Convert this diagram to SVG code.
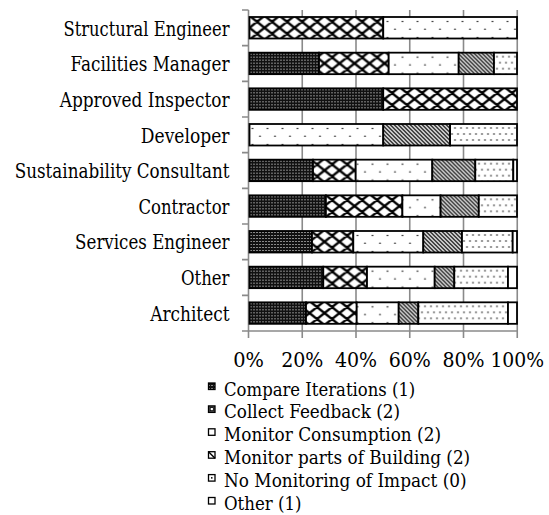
<svg xmlns="http://www.w3.org/2000/svg" width="549" height="515" viewBox="0 0 549 515" font-family="'DejaVu Serif', serif">
  <style>
    text { font-family: 'DejaVu Serif', serif; fill: #000; }
    .cat { font-size: 19.6px; text-anchor: end; }
    .tick { font-size: 20.5px; }
    .leg { font-size: 19.4px; }
    .grid { stroke: #8a8a8a; stroke-width: 1.6; fill: none; }
    .seg { stroke: #000; stroke-width: 1.8; }
    .mk { stroke: #000; stroke-width: 1.3; fill: #fff; }
    .compare { fill: url(#p-compare); }
    .collect { fill: url(#p-collect); }
    .consumption { fill: url(#p-consumption); }
    .parts { fill: url(#p-parts); }
    .none { fill: url(#p-none); }
    .other { fill: #fff; }
  </style>
  <defs>
    <!-- dark fill with a fine grid of light dots -->
    <pattern id="p-compare" patternUnits="userSpaceOnUse" x="249.5" y="0" width="3" height="3">
      <rect width="3" height="3" fill="#111"/>
      <rect x="1" y="1" width="1" height="1" fill="#fff"/>
    </pattern>
    <!-- large diagonal crosshatch (diamonds) -->
    <pattern id="p-collect" patternUnits="userSpaceOnUse" x="249.5" y="-1.25" width="15" height="12">
      <rect width="15" height="12" fill="#fff"/>
      <path d="M-15,-12 L30,24 M-15,0 L15,24 M0,-12 L30,12 M-15,24 L30,-12 M-15,12 L15,-12 M0,24 L30,0" stroke="#000" stroke-width="2.4"/>
    </pattern>
    <!-- sparse staggered dots -->
    <pattern id="p-consumption" patternUnits="userSpaceOnUse" x="249.5" y="0" width="15" height="16">
      <rect width="15" height="16" fill="#fff"/>
      <circle cx="3" cy="4.5" r="0.8" fill="#000"/>
      <circle cx="10.5" cy="12.3" r="0.8" fill="#000"/>
    </pattern>
    <!-- downward diagonal stripes -->
    <pattern id="p-parts" patternUnits="userSpaceOnUse" x="249.5" y="0" width="4" height="4">
      <rect width="4" height="4" fill="#fff"/>
      <path d="M-1,-1 L5,5 M-1,3 L1,5 M3,-1 L5,1" stroke="#000" stroke-width="1.3"/>
    </pattern>
    <!-- dense staggered dots -->
    <pattern id="p-none" patternUnits="userSpaceOnUse" x="249.5" y="0" width="6" height="12">
      <rect width="6" height="12" fill="#fff"/>
      <circle cx="1.5" cy="4" r="0.8" fill="#000"/>
      <circle cx="4.5" cy="10" r="0.8" fill="#000"/>
    </pattern>
  </defs>

  <rect width="549" height="515" fill="#fff"/>

  <!-- axes and gridlines -->
  <g id="axes" class="grid">
    <path d="M248.5,10 V338 M302.25,10 V338 M356,10 V338 M409.75,10 V338 M463.5,10 V338 M517.25,10 V338"/>
    <path d="M242,331 H517.25"/>
    <path d="M242,10 H248.5 M242,45.67 H248.5 M242,81.33 H248.5 M242,117 H248.5 M242,152.67 H248.5 M242,188.33 H248.5 M242,224 H248.5 M242,259.67 H248.5 M242,295.33 H248.5"/>
  </g>

  <!-- category labels -->
  <g id="categories">
    <text class="cat" x="229.5" y="35.7" textLength="166" lengthAdjust="spacingAndGlyphs">Structural Engineer</text>
    <text class="cat" x="229.5" y="71.3" textLength="159" lengthAdjust="spacingAndGlyphs">Facilities Manager</text>
    <text class="cat" x="229.5" y="106.9" textLength="169.8" lengthAdjust="spacingAndGlyphs">Approved Inspector</text>
    <text class="cat" x="229.5" y="142.5" textLength="88.7" lengthAdjust="spacingAndGlyphs">Developer</text>
    <text class="cat" x="229.5" y="178.1" textLength="214.8" lengthAdjust="spacingAndGlyphs">Sustainability Consultant</text>
    <text class="cat" x="229.5" y="213.7" textLength="91.1" lengthAdjust="spacingAndGlyphs">Contractor</text>
    <text class="cat" x="229.5" y="249.3" textLength="154.4" lengthAdjust="spacingAndGlyphs">Services Engineer</text>
    <text class="cat" x="229.5" y="284.9" textLength="48.5" lengthAdjust="spacingAndGlyphs">Other</text>
    <text class="cat" x="229.5" y="320.5" textLength="79.3" lengthAdjust="spacingAndGlyphs">Architect</text>
  </g>

  <!-- stacked bars -->
  <g id="bar-structural-engineer" transform="translate(0,17)">
    <rect class="seg collect" x="249.5" y="0" width="133.75" height="21.5"/>
    <rect class="seg consumption" x="383.25" y="0" width="133.75" height="21.5"/>
  </g>
  <g id="bar-facilities-manager" transform="translate(0,52.67)">
    <rect class="seg compare" x="249.5" y="0" width="69.5" height="21.5"/>
    <rect class="seg collect" x="319" y="0" width="69.7" height="21.5"/>
    <rect class="seg consumption" x="388.7" y="0" width="70" height="21.5"/>
    <rect class="seg parts" x="458.7" y="0" width="35.3" height="21.5"/>
    <rect class="seg none" x="494" y="0" width="23" height="21.5"/>
  </g>
  <g id="bar-approved-inspector" transform="translate(0,88.33)">
    <rect class="seg compare" x="249.5" y="0" width="133.75" height="21.5"/>
    <rect class="seg collect" x="383.25" y="0" width="133.75" height="21.5"/>
  </g>
  <g id="bar-developer" transform="translate(0,124)">
    <rect class="seg consumption" x="249.5" y="0" width="133.75" height="21.5"/>
    <rect class="seg parts" x="383.25" y="0" width="66.85" height="21.5"/>
    <rect class="seg none" x="450.1" y="0" width="66.9" height="21.5"/>
  </g>
  <g id="bar-sustainability-consultant" transform="translate(0,159.67)">
    <rect class="seg compare" x="249.5" y="0" width="63.5" height="21.5"/>
    <rect class="seg collect" x="313" y="0" width="42.7" height="21.5"/>
    <rect class="seg consumption" x="355.7" y="0" width="76.6" height="21.5"/>
    <rect class="seg parts" x="432.3" y="0" width="43" height="21.5"/>
    <rect class="seg none" x="475.3" y="0" width="38" height="21.5"/>
    <rect class="seg other" x="513.3" y="0" width="3.7" height="21.5"/>
  </g>
  <g id="bar-contractor" transform="translate(0,195.33)">
    <rect class="seg compare" x="249.5" y="0" width="76.4" height="21.5"/>
    <rect class="seg collect" x="325.9" y="0" width="76.5" height="21.5"/>
    <rect class="seg consumption" x="402.4" y="0" width="38.2" height="21.5"/>
    <rect class="seg parts" x="440.6" y="0" width="38.2" height="21.5"/>
    <rect class="seg none" x="478.8" y="0" width="38.2" height="21.5"/>
  </g>
  <g id="bar-services-engineer" transform="translate(0,231)">
    <rect class="seg compare" x="249.5" y="0" width="62.5" height="21.5"/>
    <rect class="seg collect" x="312" y="0" width="41.3" height="21.5"/>
    <rect class="seg consumption" x="353.3" y="0" width="70" height="21.5"/>
    <rect class="seg parts" x="423.3" y="0" width="38.7" height="21.5"/>
    <rect class="seg none" x="462" y="0" width="50.7" height="21.5"/>
    <rect class="seg other" x="512.7" y="0" width="4.3" height="21.5"/>
  </g>
  <g id="bar-other" transform="translate(0,266.67)">
    <rect class="seg compare" x="249.5" y="0" width="73.8" height="21.5"/>
    <rect class="seg collect" x="323.3" y="0" width="43.7" height="21.5"/>
    <rect class="seg consumption" x="367" y="0" width="67.7" height="21.5"/>
    <rect class="seg parts" x="434.7" y="0" width="19.6" height="21.5"/>
    <rect class="seg none" x="454.3" y="0" width="53.7" height="21.5"/>
    <rect class="seg other" x="508" y="0" width="9" height="21.5"/>
  </g>
  <g id="bar-architect" transform="translate(0,302.33)">
    <rect class="seg compare" x="249.5" y="0" width="56.5" height="21.5"/>
    <rect class="seg collect" x="306" y="0" width="50.7" height="21.5"/>
    <rect class="seg consumption" x="356.7" y="0" width="42" height="21.5"/>
    <rect class="seg parts" x="398.7" y="0" width="19.6" height="21.5"/>
    <rect class="seg none" x="418.3" y="0" width="89.7" height="21.5"/>
    <rect class="seg other" x="508" y="0" width="9" height="21.5"/>
  </g>

  <!-- value axis labels (left-aligned so each label centres on its gridline) -->
  <g id="value-labels">
    <text class="tick" x="233.15" y="367" textLength="30.7" lengthAdjust="spacingAndGlyphs">0%</text>
    <text class="tick" x="281.15" y="367" textLength="42.2" lengthAdjust="spacingAndGlyphs">20%</text>
    <text class="tick" x="334.9" y="367" textLength="42.2" lengthAdjust="spacingAndGlyphs">40%</text>
    <text class="tick" x="388.65" y="367" textLength="42.2" lengthAdjust="spacingAndGlyphs">60%</text>
    <text class="tick" x="442.4" y="367" textLength="42.2" lengthAdjust="spacingAndGlyphs">80%</text>
    <text class="tick" x="490.4" y="367" textLength="53.7" lengthAdjust="spacingAndGlyphs">100%</text>
  </g>

  <!-- legend -->
  <g id="legend">
    <g id="legend-compare">
      <rect class="mk" x="208.5" y="383" width="6.5" height="6.5" style="fill:url(#p-compare)"/>
      <text class="leg" x="224" y="395.5" textLength="191.3" lengthAdjust="spacingAndGlyphs">Compare Iterations (1)</text>
    </g>
    <g id="legend-collect">
      <rect class="mk" x="208.5" y="405.9" width="6.5" height="6.5" style="fill:#555"/>
      <rect x="210.2" y="407.6" width="3.1" height="3.1" fill="#fff" stroke="#000" stroke-width="0.8"/>
      <text class="leg" x="224" y="418.4" textLength="176.1" lengthAdjust="spacingAndGlyphs">Collect Feedback (2)</text>
    </g>
    <g id="legend-consumption">
      <rect class="mk" x="208.5" y="428.8" width="6.5" height="6.5"/>
      <text class="leg" x="224" y="441.3" textLength="217" lengthAdjust="spacingAndGlyphs">Monitor Consumption (2)</text>
    </g>
    <g id="legend-parts">
      <rect class="mk" x="208.5" y="451.7" width="6.5" height="6.5"/>
      <path d="M208.5,451.7 L215,458.2" stroke="#000" stroke-width="1.4"/>
      <text class="leg" x="224" y="464.2" textLength="246.2" lengthAdjust="spacingAndGlyphs">Monitor parts of Building (2)</text>
    </g>
    <g id="legend-none">
      <rect class="mk" x="208.5" y="474.6" width="6.5" height="6.5"/>
      <rect x="211" y="477.1" width="1.5" height="1.5" fill="#000"/>
      <text class="leg" x="224" y="487.1" textLength="242.6" lengthAdjust="spacingAndGlyphs">No Monitoring of Impact (0)</text>
    </g>
    <g id="legend-other">
      <rect class="mk" x="208.5" y="497.5" width="6.5" height="6.5"/>
      <text class="leg" x="224" y="510" textLength="77.6" lengthAdjust="spacingAndGlyphs">Other (1)</text>
    </g>
  </g>
</svg>
